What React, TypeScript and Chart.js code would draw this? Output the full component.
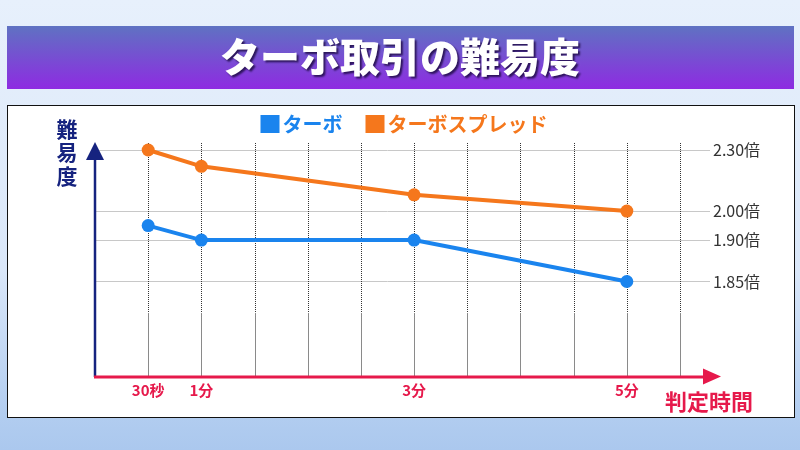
import React, { useEffect, useRef } from 'react';
import { Chart, registerables, LinearScale } from 'chart.js';

// ---- data ----
const chartTitle = 'ターボ取引の難易度';
const yAxisTitle = '難易度';
const xAxisTitle = '判定時間';
const timesSec = [30, 60, 180, 300];
const timeLabels = ['30秒', '1分', '3分', '5分'];
const turboLabel = 'ターボ';
const turboValues = [1.95, 1.9, 1.9, 1.85];
const spreadLabel = 'ターボスプレッド';
const spreadValues = [2.3, 2.22, 2.08, 2.0];
const yTickValues = [1.85, 1.9, 2.0, 2.3];

// ---- non-uniform value axis (value -> fraction of plot height) ----
const Y_KNOTS: [number, number][] = [
  [1.75, 0],
  [1.85, 0.408],
  [1.9, 0.585],
  [2.0, 0.709],
  [2.3, 0.97],
  [2.334, 1],
];

const BLUE = '#1a84ee';
const ORANGE = '#f5771c';
const RED = '#e6194b';
const NAVY = '#16237f';
const JP = '"Noto Sans CJK JP", "Noto Sans", sans-serif';

class PiecewiseScale extends LinearScale {
  static id = 'piecewise';
  static defaults = {};
  _frac(value: number) {
    const k = Y_KNOTS;
    let i = 0;
    while (i < k.length - 2 && value > k[i + 1][0]) i++;
    const [v0, f0] = k[i];
    const [v1, f1] = k[i + 1];
    return f0 + ((value - v0) * (f1 - f0)) / (v1 - v0);
  }
  getPixelForValue(value: number) {
    const f = this._frac(value);
    return this.bottom - f * (this.bottom - this.top);
  }
  getValueForPixel(pixel: number) {
    const f = (this.bottom - pixel) / (this.bottom - this.top);
    const k = Y_KNOTS;
    let i = 0;
    while (i < k.length - 2 && f > k[i + 1][1]) i++;
    const [v0, f0] = k[i];
    const [v1, f1] = k[i + 1];
    return v0 + ((f - f0) * (v1 - v0)) / (f1 - f0);
  }
}

Chart.register(...registerables, PiecewiseScale);

const decoPlugin = {
  id: 'deco',
  beforeDraw(chart: any) {
    const ctx = chart.ctx as CanvasRenderingContext2D;
    const W = chart.width;
    const H = chart.height;
    ctx.save();
    // page background
    const bg = ctx.createLinearGradient(0, 0, 0, H);
    bg.addColorStop(0, '#e7f0fc');
    bg.addColorStop(0.6, '#dae7f9');
    bg.addColorStop(0.92, '#b2cdf0');
    bg.addColorStop(1, '#abc8ee');
    ctx.fillStyle = bg;
    ctx.fillRect(0, 0, W, H);

    // title banner
    const tg = ctx.createLinearGradient(0, 26, 0, 89);
    tg.addColorStop(0, '#5f72c2');
    tg.addColorStop(1, '#8e2be2');
    ctx.fillStyle = tg;
    ctx.fillRect(7, 26, 787, 63);

    ctx.font = `900 40px ${JP}`;
    ctx.textAlign = 'center';
    ctx.textBaseline = 'middle';
    ctx.shadowColor = 'rgba(30,10,70,0.85)';
    ctx.shadowOffsetX = 2;
    ctx.shadowOffsetY = 2;
    ctx.shadowBlur = 2;
    ctx.fillStyle = '#ffffff';
    ctx.fillText(chartTitle, 400, 57);
    ctx.shadowColor = 'transparent';
    ctx.shadowOffsetX = 0;
    ctx.shadowOffsetY = 0;
    ctx.shadowBlur = 0;

    // white panel
    ctx.fillStyle = '#ffffff';
    ctx.fillRect(7, 105, 787, 312);
    ctx.strokeStyle = '#111111';
    ctx.lineWidth = 1;
    ctx.strokeRect(7.5, 105.5, 787, 312);

    // legend
    ctx.font = `bold 20px ${JP}`;
    ctx.textAlign = 'left';
    const ds = chart.data.datasets;
    const box = 19;
    const gapText = 3;
    const gapItem = 23;
    const widths = ds.map((d: any) => box + gapText + ctx.measureText(d.label).width);
    const total = widths.reduce((a: number, b: number) => a + b, 0) + gapItem * (ds.length - 1);
    let lx = 404 - total / 2;
    ds.forEach((d: any, i: number) => {
      ctx.fillStyle = d.borderColor;
      ctx.fillRect(lx, 115, box, 18);
      ctx.fillText(d.label, lx + box + gapText, 124.5);
      lx += widths[i] + gapItem;
    });

    // y-axis title (vertical)
    ctx.font = `bold 21px ${JP}`;
    ctx.fillStyle = NAVY;
    ctx.textAlign = 'center';
    Array.from(yAxisTitle).forEach((ch, i) => {
      ctx.fillText(ch, 67, 129 + i * 23.5);
    });

    // x-axis title
    ctx.font = `bold 22px ${JP}`;
    ctx.fillStyle = RED;
    ctx.fillText(xAxisTitle, 709, 402);
    ctx.restore();
  },
  beforeDatasetsDraw(chart: any) {
    const ctx = chart.ctx as CanvasRenderingContext2D;
    const { top, bottom, left } = chart.chartArea;
    const xs = chart.scales.x;
    const split = bottom - 64;
    ctx.save();
    xs.ticks.forEach((t: any) => {
      if (t.value === xs.min) return;
      const x = Math.round(xs.getPixelForValue(t.value)) + 0.5;
      ctx.lineWidth = 1;
      ctx.setLineDash([1, 1]);
      ctx.strokeStyle = '#333333';
      ctx.beginPath();
      ctx.moveTo(x, top);
      ctx.lineTo(x, split);
      ctx.stroke();
      ctx.setLineDash([]);
      ctx.strokeStyle = '#8a8a8a';
      ctx.beginPath();
      ctx.moveTo(x, split);
      ctx.lineTo(x, bottom);
      ctx.stroke();
    });

    // y axis (navy arrow)
    ctx.strokeStyle = NAVY;
    ctx.lineWidth = 2.5;
    ctx.beginPath();
    ctx.moveTo(left, top + 14);
    ctx.lineTo(left, bottom);
    ctx.stroke();
    ctx.fillStyle = NAVY;
    ctx.beginPath();
    ctx.moveTo(left, top - 1);
    ctx.lineTo(left - 9, top + 17);
    ctx.lineTo(left + 9, top + 17);
    ctx.closePath();
    ctx.fill();

    // x axis (red arrow)
    ctx.strokeStyle = RED;
    ctx.lineWidth = 3;
    ctx.beginPath();
    ctx.moveTo(left - 1, bottom);
    ctx.lineTo(706, bottom);
    ctx.stroke();
    ctx.fillStyle = RED;
    ctx.beginPath();
    ctx.moveTo(721, bottom - 0.5);
    ctx.lineTo(703, bottom - 8.5);
    ctx.lineTo(703, bottom + 7.5);
    ctx.closePath();
    ctx.fill();
    ctx.restore();
  },
};

export default function App() {
  const ref = useRef<HTMLCanvasElement | null>(null);
  useEffect(() => {
    if (!ref.current) return;
    const chart = new Chart(ref.current, {
      type: 'line',
      data: {
        datasets: [
          {
            label: turboLabel,
            data: timesSec.map((t, i) => ({ x: t, y: turboValues[i] })),
            borderColor: BLUE,
            backgroundColor: BLUE,
            pointBackgroundColor: BLUE,
            borderWidth: 4,
            pointRadius: 6.5,
            pointBorderWidth: 0,
            tension: 0,
          },
          {
            label: spreadLabel,
            data: timesSec.map((t, i) => ({ x: t, y: spreadValues[i] })),
            borderColor: ORANGE,
            backgroundColor: ORANGE,
            pointBackgroundColor: ORANGE,
            borderWidth: 4,
            pointRadius: 6.5,
            pointBorderWidth: 0,
            tension: 0,
          },
        ],
      },
      options: {
        responsive: false,
        animation: false,
        layout: { padding: { left: 95, top: 143, right: 0, bottom: 0 } },
        plugins: {
          legend: { display: false },
          title: { display: false },
          tooltip: { enabled: false },
        },
        scales: {
          x: {
            type: 'linear',
            min: 0,
            max: 330,
            ticks: {
              stepSize: 30,
              autoSkip: false,
              maxRotation: 0,
              padding: 4,
              color: RED,
              font: { family: JP, size: 15, weight: 'bold' },
              callback: (v: any) => {
                const i = timesSec.indexOf(Number(v));
                return i >= 0 ? timeLabels[i] : '';
              },
            },
            grid: { display: false, drawTicks: false },
            border: { display: false },
            afterFit: (s: any) => {
              s.height = 73;
            },
          },
          y: {
            type: 'piecewise' as any,
            position: 'right',
            min: 1.75,
            max: 2.334,
            afterBuildTicks: (s: any) => {
              s.ticks = yTickValues.map((v) => ({ value: v }));
            },
            ticks: {
              padding: 3,
              color: '#333333',
              font: { family: JP, size: 16 },
              callback: (v: any) => Number(v).toFixed(2) + '倍',
            },
            grid: { color: '#c8c8c8', lineWidth: 1, drawTicks: true, tickLength: 30 },
            border: { display: false },
            afterFit: (s: any) => {
              s.width = 120;
            },
          },
        },
      } as any,
      plugins: [decoPlugin],
    });
    return () => chart.destroy();
  }, []);
  return (
    <div style={{ position: 'fixed', left: 0, top: 0, width: 800, height: 450 }}>
      <canvas ref={ref} width={800} height={450} style={{ display: 'block' }} />
    </div>
  );
}
